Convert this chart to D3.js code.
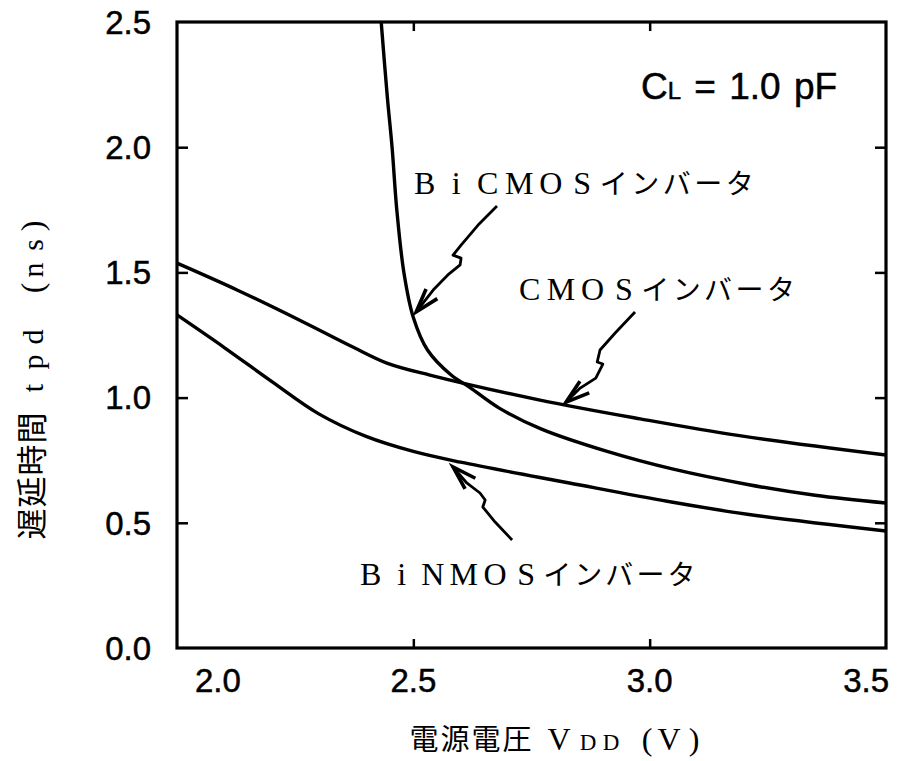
<!DOCTYPE html>
<html>
<head>
<meta charset="utf-8">
<script src="https://cdn.jsdelivr.net/npm/d3@7"></script>
<style>
  body { margin: 0; background: #fff; }
</style>
</head>
<body>
<script>
// values: supply voltage (V) vs delay (ns)
const vddCmos = [2.0, 2.127, 2.267, 2.372, 2.444, 2.535, 2.768, 2.98, 3.19, 3.5];
const tpdCmos = [1.537, 1.43, 1.302, 1.202, 1.138, 1.09, 0.99, 0.915, 0.848, 0.771];

const vddBicmos = [2.432, 2.445, 2.455, 2.465, 2.48, 2.50, 2.53, 2.58, 2.62, 2.68, 2.77, 2.91, 3.05, 3.21, 3.35, 3.5];
const tpdBicmos = [2.5, 2.2, 2.0, 1.75, 1.5, 1.32, 1.19, 1.09, 1.04, 0.96, 0.875, 0.785, 0.714, 0.652, 0.61, 0.579];

const vddBinmos = [2.0, 2.1, 2.2, 2.3, 2.4, 2.5, 2.6, 2.83, 3.04, 3.21, 3.5];
const tpdBinmos = [1.33, 1.2, 1.065, 0.935, 0.845, 0.785, 0.742, 0.659, 0.585, 0.533, 0.467];

// hand drawn pointer arrows (V, ns), last point is the tip
const arrowBicmos = [[2.677, 1.765], [2.637, 1.689], [2.601, 1.609], [2.584, 1.569], [2.601, 1.557], [2.599, 1.530], [2.573, 1.490], [2.544, 1.434], [2.506, 1.342]];
const arrowCmos = [[2.969, 1.342], [2.927, 1.258], [2.895, 1.190], [2.889, 1.142], [2.901, 1.134], [2.886, 1.078], [2.853, 1.038], [2.823, 0.982]];
const arrowBinmos = [[2.709, 0.431], [2.673, 0.503], [2.647, 0.563], [2.652, 0.591], [2.641, 0.619], [2.613, 0.659], [2.584, 0.723]];

const xTicks = [2.0, 2.5, 3.0, 3.5];
const yTicks = [0.0, 0.5, 1.0, 1.5, 2.0, 2.5];

const labelBicmos = "BiCMOSインバータ";
const labelCmos = "CMOSインバータ";
const labelBinmos = "BiNMOSインバータ";

// chart frame
const margin = { top: 22, right: 11, bottom: 113, left: 177 };
const W = 897, H = 761;
const width = W - margin.left - margin.right;
const height = H - margin.top - margin.bottom;

const svg = d3.select("body").append("svg")
    .attr("width", W)
    .attr("height", H);

const g = svg.append("g")
    .attr("transform", `translate(${margin.left},${margin.top})`);

const x = d3.scaleLinear().domain([2.0, 3.5]).range([0, width]);
const y = d3.scaleLinear().domain([0, 2.5]).range([height, 0]);

const sans = "'Liberation Sans', Arial, Helvetica, sans-serif";
const serif = "'Liberation Serif', 'DejaVu Serif', serif";
const cjk = "'Noto Sans CJK JP', sans-serif";

// inward ticks on all four sides (inner values only)
const innerX = xTicks.slice(1, -1);
const innerY = yTicks.slice(1, -1);

g.append("g").attr("transform", `translate(0,${height})`)
    .call(d3.axisBottom(x).tickValues(innerX).tickSizeInner(-9).tickSizeOuter(0).tickFormat(""))
    .call(a => a.select(".domain").remove());
g.append("g")
    .call(d3.axisTop(x).tickValues(innerX).tickSizeInner(-9).tickSizeOuter(0).tickFormat(""))
    .call(a => a.select(".domain").remove());
g.append("g")
    .call(d3.axisLeft(y).tickValues(innerY).tickSizeInner(-11).tickSizeOuter(0).tickFormat(""))
    .call(a => a.select(".domain").remove());
g.append("g").attr("transform", `translate(${width},0)`)
    .call(d3.axisRight(y).tickValues(innerY).tickSizeInner(-11).tickSizeOuter(0).tickFormat(""))
    .call(a => a.select(".domain").remove());
g.selectAll(".tick line").attr("stroke", "#000").attr("stroke-width", 2.5);

// frame
g.append("rect")
    .attr("width", width).attr("height", height)
    .attr("fill", "none").attr("stroke", "#000").attr("stroke-width", 3.2);

// tick labels
g.append("g").selectAll("text")
    .data(yTicks)
    .join("text")
    .attr("x", -26)
    .attr("y", d => y(d))
    .attr("dy", "0.36em")
    .attr("text-anchor", "end")
    .attr("font-family", sans)
    .attr("font-size", 33)
    .attr("stroke", "#000").attr("stroke-width", 0.5)
    .text(d => d.toFixed(1));

g.append("g").selectAll("text")
    .data(xTicks)
    .join("text")
    .attr("x", (d, i) => x(d) + (i === 0 ? 18 : i === xTicks.length - 1 ? 3 : 0))
    .attr("y", height + 44)
    .attr("text-anchor", (d, i) => i === 0 ? "start" : i === xTicks.length - 1 ? "end" : "middle")
    .attr("font-family", sans)
    .attr("font-size", 33)
    .attr("stroke", "#000").attr("stroke-width", 0.5)
    .text(d => d.toFixed(1));

// curves
const line = d3.line().x(d => x(d[0])).y(d => y(d[1])).curve(d3.curveCatmullRom.alpha(0.5));
const series = [
    d3.zip(vddCmos, tpdCmos),
    d3.zip(vddBicmos, tpdBicmos),
    d3.zip(vddBinmos, tpdBinmos)
];
g.append("g").selectAll("path")
    .data(series)
    .join("path")
    .attr("d", line)
    .attr("fill", "none")
    .attr("stroke", "#000")
    .attr("stroke-width", 3.4)
    .attr("stroke-linejoin", "round");

// pointer arrows
const arrowLine = d3.line().x(d => x(d[0])).y(d => y(d[1])).curve(d3.curveLinear);
[arrowBicmos, arrowCmos, arrowBinmos].forEach(pts => {
    g.append("path")
        .attr("d", arrowLine(pts))
        .attr("fill", "none").attr("stroke", "#000")
        .attr("stroke-width", 2.8).attr("stroke-linejoin", "round");
    const tip = pts[pts.length - 1], prev = pts[pts.length - 3];
    const tx = x(tip[0]), ty = y(tip[1]);
    const ang = Math.atan2(y(prev[1]) - ty, x(prev[0]) - tx);
    const len = 25, spread = 0.3;
    const head = [
        [tx + len * Math.cos(ang + spread), ty + len * Math.sin(ang + spread)],
        [tx, ty],
        [tx + len * Math.cos(ang - spread), ty + len * Math.sin(ang - spread)]
    ];
    g.append("path")
        .attr("d", d3.line()(head))
        .attr("fill", "none").attr("stroke", "#000")
        .attr("stroke-width", 3.6).attr("stroke-linejoin", "miter");
});

// monospaced-cell labels: latin in serif, kana in CJK font
function cellLabel(sel, str, x0, y0, cell) {
    const t = sel.append("text").attr("fill", "#000");
    Array.from(str).forEach((ch, i) => {
        const latin = /[A-Za-z]/.test(ch);
        t.append("tspan")
            .attr("x", x0 + cell * i + cell / 2)
            .attr("y", y0)
            .attr("text-anchor", "middle")
            .attr("font-family", latin ? serif : cjk)
            .attr("font-size", latin ? 32 : 28)
            .text(ch);
    });
}
cellLabel(svg, labelBicmos, 409, 194, 31.5);
cellLabel(svg, labelCmos, 514, 300, 31.4);
cellLabel(svg, labelBinmos, 355, 585, 31.1);

// C_L = 1.0 pF
const cl = svg.append("text")
    .attr("x", 641).attr("y", 99)
    .attr("font-family", sans).attr("font-size", 37)
    .attr("word-spacing", 3)
    .attr("stroke", "#000").attr("stroke-width", 0.5);
cl.append("tspan").text("C");
cl.append("tspan").attr("font-size", 24).text("L");
cl.append("tspan").text(" = 1.0 pF");

// x axis title: 電源電圧 VDD (V)
const xt = svg.append("text").attr("y", 750).attr("fill", "#000");
const xParts = [
    ["電", 424, cjk, 29], ["源", 455, cjk, 29], ["電", 486, cjk, 29], ["圧", 517, cjk, 29],
    ["V", 559, serif, 32], ["D", 588, serif, 23], ["D", 611, serif, 23],
    ["(", 647, serif, 32], ["V", 669, serif, 32], [")", 694, serif, 32]
];
xParts.forEach(([ch, cx, f, s]) => {
    xt.append("tspan").attr("x", cx).attr("text-anchor", "middle")
        .attr("font-family", f).attr("font-size", s).text(ch);
});

// y axis title (rotated): 遅延時間 tpd (ns)
const yt = svg.append("g").attr("transform", "translate(43,540) rotate(-90)")
    .append("text").attr("y", 0).attr("fill", "#000");
const yParts = [
    ["遅", 16, cjk, 31], ["延", 48, cjk, 31], ["時", 80, cjk, 31], ["間", 112, cjk, 31],
    ["t", 152, serif, 30], ["p", 178, serif, 30], ["d", 203, serif, 30],
    ["(", 252, serif, 32], ["n", 270, serif, 30], ["s", 295, serif, 30], [")", 314, serif, 32]
];
yParts.forEach(([ch, cx, f, s]) => {
    yt.append("tspan").attr("x", cx).attr("text-anchor", "middle")
        .attr("font-family", f).attr("font-size", s).text(ch);
});
</script>
</body>
</html>
